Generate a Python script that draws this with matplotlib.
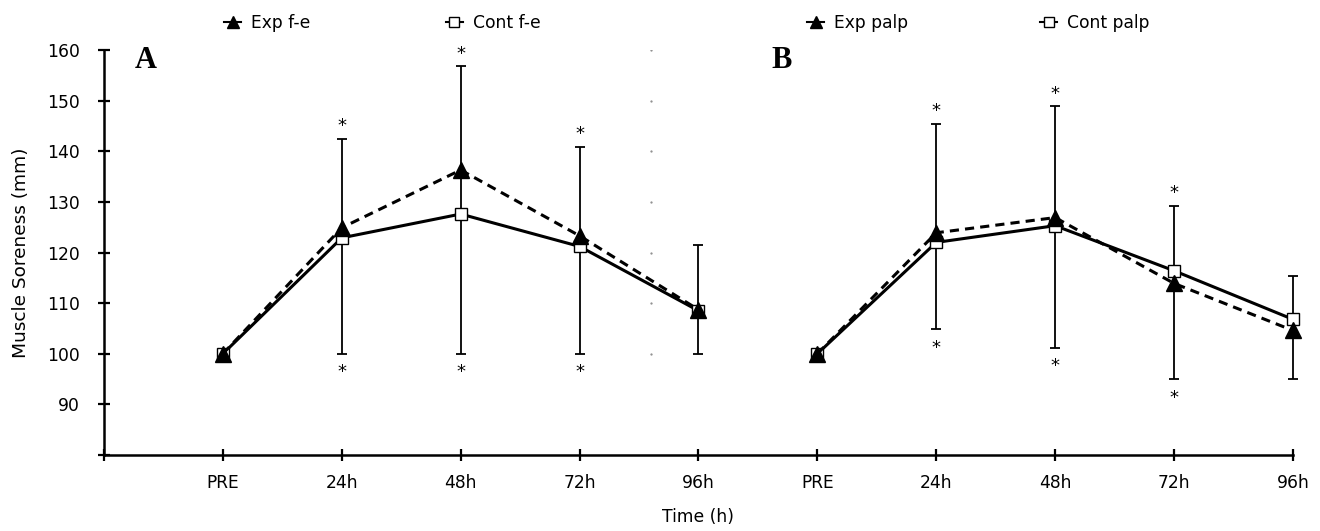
import numpy as np
import matplotlib
matplotlib.use("Agg")
import matplotlib.pyplot as plt
from matplotlib.lines import Line2D

plt.rcParams['font.family'] = ['DejaVu Sans']

time_labels = ['PRE', '24h', '48h', '72h', '96h']
nan = np.nan

# panel A: flexion-extension
exp_fe = [100, 124.9, 136.3, 123.3, 108.7]
cont_fe = [100, 122.9, 127.6, 121.2, 108.5]
fe_err_top = [nan, 142.5, 156.8, 140.9, 121.5]
fe_err_bot = [nan, 100.0, 100.0, 100.0, 100.0]
fe_star_top = [0, 1, 1, 1, 0]
fe_star_bot = [0, 1, 1, 1, 0]

# panel B: palpation
exp_palp = [100, 123.9, 126.9, 113.9, 104.6]
cont_palp = [100, 122.0, 125.3, 116.4, 106.8]
palp_err_top = [nan, 145.4, 148.9, 129.2, 115.4]
palp_err_bot = [nan, 104.8, 101.2, 95.0, 95.0]
palp_star_top = [0, 1, 1, 1, 0]
palp_star_bot = [0, 1, 1, 1, 0]

guide_levels = [100, 110, 120, 130, 140, 150, 160]

FS = 12.3

fig = plt.figure(figsize=(13.2, 5.31), dpi=100)
ax = fig.add_axes([0.0788, 0.1431, 0.9007, 0.7627])

xa = np.arange(1, 6)
xb = np.arange(6, 11)

def draw_panel(x, exp, cont, top, bot, st_top, st_bot):
    top = np.array(top)
    bot = np.array(bot)
    mid = (top + bot) / 2
    eb = ax.errorbar(x, mid, yerr=[mid - bot, top - mid], fmt='none', ecolor='black',
                     elinewidth=1.3, capsize=3.5, capthick=1.3, zorder=2)
    for art in eb.lines[1] + eb.lines[2]:
        art.set_clip_on(False)
    ax.plot(x, cont, color='black', lw=2.2, ls='-', marker='s', ms=9,
            mfc='white', mec='black', mew=1.0, zorder=3, clip_on=False)
    ax.plot(x, exp, color='black', lw=2.2, ls=(0, (3, 2)), marker='^', ms=12,
            mfc='black', mec='black', zorder=4, clip_on=False)
    for xi, t, b, s1, s2 in zip(x, top, bot, st_top, st_bot):
        if s1:
            ax.annotate('*', (xi, t), xytext=(0, 5.5), textcoords='offset points',
                        ha='center', va='baseline', fontsize=13)
        if s2:
            ax.annotate('*', (xi, b), xytext=(0, -17), textcoords='offset points',
                        ha='center', va='baseline', fontsize=13)

draw_panel(xa, exp_fe, cont_fe, fe_err_top, fe_err_bot, fe_star_top, fe_star_bot)
draw_panel(xb, exp_palp, cont_palp, palp_err_top, palp_err_bot, palp_star_top, palp_star_bot)

# faint dotted separator
ax.plot([4.6] * len(guide_levels), guide_levels, ls='none', marker='.', ms=1.2,
        color='#888888', zorder=1)

ax.set_xlim(0, 10)
ax.set_ylim(80, 160)
ax.set_xticks(np.arange(0, 11))
ax.set_xticklabels([''] + time_labels + time_labels)
ax.set_yticks(np.arange(80, 161, 10))
ax.set_yticklabels([''] + [str(v) for v in range(90, 161, 10)])
ax.tick_params(axis='both', direction='inout', length=9, width=1.6, labelsize=FS,
               colors='black')
ax.tick_params(axis='y', pad=13)
ax.tick_params(axis='x', pad=9)
for side in ['top', 'right']:
    ax.spines[side].set_visible(False)
for side in ['left', 'bottom']:
    ax.spines[side].set_linewidth(1.8)

ax.set_xlabel('Time (h)', fontsize=FS, labelpad=12)
ax.set_ylabel('Muscle Soreness (mm)', fontsize=13.3)
ax.yaxis.set_label_coords(-0.062, 0.5)

ax.text(0.26, 158, 'A', fontsize=22, fontweight='bold', family='Liberation Serif',
        ha='left', va='center')
ax.text(5.61, 158, 'B', fontsize=22, fontweight='bold', family='Liberation Serif',
        ha='left', va='center')

def handles(lbl1, lbl2):
    h1 = Line2D([], [], color='black', lw=1.5, marker='^', ms=8, mfc='black')
    h2 = Line2D([], [], color='black', lw=1.5, marker='s', ms=7, mfc='white')
    return [h1, h2], [lbl1, lbl2]

h, l = handles('Exp f-e', 'Cont f-e')
fig.legend(h, l, loc='center left', bbox_to_anchor=(224 / 1320, 1 - 23 / 531), ncol=2,
           frameon=False, handlelength=1.0, handletextpad=0.6, columnspacing=7.9,
           fontsize=FS, borderaxespad=0, borderpad=0)
h, l = handles('Exp palp', 'Cont palp')
fig.legend(h, l, loc='center left', bbox_to_anchor=(807 / 1320, 1 - 23 / 531), ncol=2,
           frameon=False, handlelength=1.0, handletextpad=0.6, columnspacing=7.7,
           fontsize=FS, borderaxespad=0, borderpad=0)

fig.savefig('out.png', dpi=100)
